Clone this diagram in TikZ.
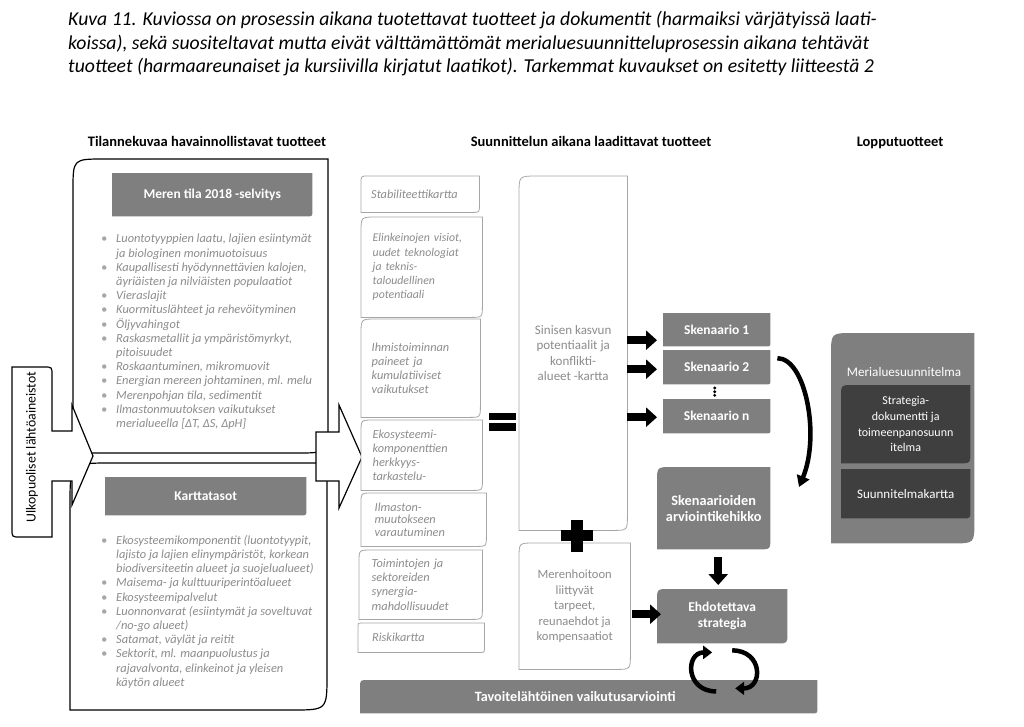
\documentclass[tikz,border=0pt]{standalone}
\usepackage{fontspec}
\setmainfont{Carlito}
\usetikzlibrary{calc,arrows.meta,backgrounds}

\definecolor{harmaa}{HTML}{7F7F7F}
\definecolor{tumma}{HTML}{3F3F3F}
\definecolor{reuna}{HTML}{A6A6A6}
\definecolor{teksti}{HTML}{8C8C8C}

% laatikko, jonka vasen ylakulma ja oikea alakulma on pyoristetty
\newcommand{\laatikko}[4][]{%
  \path[#1] ($(#2.north west)+(0,#3)$) .. controls (#2.north west) .. ($(#2.north west)+(#3,0)$)
    -- (#2.north east) -- ($(#2.south east)+(0,-#4)$) .. controls (#2.south east) .. ($(#2.south east)+(-#4,0)$)
    -- (#2.south west) -- cycle;}
\newcommand{\kohta}{\makebox[15pt][l]{\textcolor{reuna}{\textbullet}}}
\newcommand{\jatko}{\hspace*{15pt}}

\begin{document}
\begin{tikzpicture}[x=1pt,y=-1pt,
    otsikko/.style={font=\bfseries\fontsize{14.5}{17}\selectfont, anchor=base},
    lista/.style={text=teksti, font=\itshape\fontsize{12.4}{14.2}\selectfont, align=left, inner sep=0pt, anchor=north west},
    vapaa/.style={text=teksti, font=\itshape\fontsize{12.3}{14.2}\selectfont, align=left, text width=98pt, inner xsep=10pt, inner ysep=0pt, anchor=north west},
    keskeinen/.style={text=teksti, font=\fontsize{13}{15.5}\selectfont, align=center, inner sep=0pt, anchor=north west},
    tuote/.style={text=white, font=\bfseries\fontsize{13.5}{16}\selectfont, align=center, inner sep=0pt, anchor=north west},
    lopputuote/.style={tuote, font=\fontsize{12.5}{15.7}\selectfont},
    reunaviiva/.style={draw=black, line width=1.2pt, fill=white},
    vapaareuna/.style={draw=reuna, line width=0.8pt, fill=white},
    palkki/.style={line width=8pt, -{Triangle[length=11pt,width=19pt]}},
    kaari/.style={line width=4.5pt, -{Triangle[length=11pt,width=13pt]}},
    kierros/.style={line width=4.5pt, -{Triangle[length=9pt,width=13pt]}}
  ]
  \useasboundingbox (0,0) rectangle (1024,726);

  % kuvateksti
  \node[anchor=north west, align=left, inner sep=0pt, font=\itshape\fontsize{19.7}{23.5}\selectfont] (kuvateksti) at (68,11)
    {Kuva 11. Kuviossa on prosessin aikana tuotettavat tuotteet ja dokumentit (harmaiksi värjätyissä laati-\\
     koissa), sekä suositeltavat mutta eivät välttämättömät merialuesuunnitteluprosessin aikana tehtävät\\
     tuotteet (harmaareunaiset ja kursiivilla kirjatut laatikot). Tarkemmat kuvaukset on esitetty liitteestä 2};

  % sarakkeiden otsikot
  \node[otsikko] (tilanne) at (207,146) {Tilannekuvaa havainnollistavat tuotteet};
  \node[otsikko] (suunnittelu) at (591,146) {Suunnittelun aikana laadittavat tuotteet};
  \node[otsikko] (loppu) at (900,146) {Lopputuotteet};

  % tilannekuva
  \node[tuote, minimum width=200, minimum height=43] (merentila) at (112,173) {Meren tila 2018 -selvitys};
  \node[lista] (meritiedot) at (101,234) {%
    \kohta Luontotyyppien laatu, lajien esiintymät\\
    \jatko ja biologinen monimuotoisuus\\
    \kohta Kaupallisesti hyödynnettävien kalojen,\\
    \jatko äyriäisten ja nilviäisten populaatiot\\
    \kohta Vieraslajit\\
    \kohta Kuormituslähteet ja rehevöityminen\\
    \kohta Öljyvahingot\\
    \kohta Raskasmetallit ja ympäristömyrkyt,\\
    \jatko pitoisuudet\\
    \kohta Roskaantuminen, mikromuovit\\
    \kohta Energian mereen johtaminen, ml. melu\\
    \kohta Merenpohjan tila, sedimentit\\
    \kohta Ilmastonmuutoksen vaikutukset\\
    \jatko merialueella [ΔT, ΔS, ΔpH]};
  \node[tuote, minimum width=201, minimum height=38] (kartta) at (105,477) {Karttatasot};
  \node[lista] (karttatiedot) at (101,535) {%
    \kohta Ekosysteemikomponentit (luontotyypit,\\
    \jatko lajisto ja lajien elinympäristöt, korkean\\
    \jatko biodiversiteetin alueet ja suojelualueet)\\
    \kohta Maisema- ja kulttuuriperintöalueet\\
    \kohta Ekosysteemipalvelut\\
    \kohta Luonnonvarat (esiintymät ja soveltuvat\\
    \jatko /no-go alueet)\\
    \kohta Satamat, väylät ja reitit\\
    \kohta Sektorit, ml. maanpuolustus ja\\
    \jatko rajavalvonta, elinkeinot ja yleisen\\
    \jatko käytön alueet};
  \node[rotate=90, font=\fontsize{13.8}{15}\selectfont] (ulkoiset) at (32,447) {Ulkopuoliset lähtöaineistot};

  % suunnittelun aikana
  \node[vapaa, minimum width=117, minimum height=36] (stabiliteetti) at (361,176) {Stabiliteettikartta};
  \node[vapaa, minimum width=121, minimum height=100, font=\itshape\fontsize{11.8}{14.2}\selectfont] (visiot) at (361,217) {Elinkeinojen visiot,\\uudet teknologiat\\ja teknis-\\taloudellinen\\potentiaali};
  \node[vapaa, minimum width=119, minimum height=98] (paineet) at (361,319) {Ihmistoiminnan\\paineet ja\\kumulatiiviset\\vaikutukset};
  \node[vapaa, minimum width=121, minimum height=70] (herkkyys) at (361,420) {Ekosysteemi-\\komponenttien\\herkkyys-\\tarkastelu-};
  \node[vapaa, minimum width=125, minimum height=53, font=\itshape\fontsize{12.3}{12.6}\selectfont] (ilmasto) at (361,493) {Ilmaston-\\muutokseen\\varautuminen};
  \node[vapaa, minimum width=123, minimum height=69] (synergia) at (359,550) {Toimintojen ja\\sektoreiden\\synergia-\\mahdollisuudet};
  \node[vapaa, minimum width=126, minimum height=29] (riski) at (358,623) {Riskikartta};

  \node[keskeinen, minimum width=108, minimum height=354] (sininen) at (519,176) {Sinisen kasvun\\potentiaalit ja\\konflikti-\\alueet -kartta};
  \node[keskeinen, font=\fontsize{12.6}{15.5}\selectfont, minimum width=111, minimum height=126] (merenhoito) at (519,543) {Merenhoitoon\\liittyvät\\tarpeet,\\reunaehdot ja\\kompensaatiot};

  \node[tuote, minimum width=107, minimum height=33] (sk1) at (663,313) {Skenaario 1};
  \node[tuote, minimum width=107, minimum height=34] (sk2) at (663,350) {Skenaario 2};
  \node[tuote, minimum width=107, minimum height=34] (skn) at (663,399) {Skenaario n};
  \node[tuote, font=\bfseries\fontsize{14.3}{16}\selectfont, minimum width=113, minimum height=82] (kehikko) at (657,467) {Skenaarioiden\\arviointikehikko};
  \node[tuote, minimum width=130, minimum height=54] (ehdotus) at (657,589) {Ehdotettava\\strategia};
  \node[tuote, font=\bfseries\fontsize{14.2}{16}\selectfont, minimum width=457, minimum height=33] (arviointi) at (360,680) {\hspace*{-27pt}Tavoitelähtöinen vaikutusarviointi};

  % lopputuotteet
  \node[lopputuote, minimum width=143, minimum height=210] (merialue) at (831,333) {};
  \node[lopputuote, font=\fontsize{13.1}{15.7}\selectfont, anchor=center] (merialueotsikko) at (904,372) {Merialuesuunnitelma};
  \node[lopputuote, font=\fontsize{12}{15.7}\selectfont, minimum width=129, minimum height=78] (strategia) at (841,385) {Strategia-\\dokumentti ja\\toimeenpanosuunn\\itelma};
  \node[lopputuote, font=\fontsize{13}{15.7}\selectfont, minimum width=129, minimum height=49] (suunnitelmakartta) at (841,469) {Suunnitelmakartta};

  \begin{pgfonlayer}{background}
    \draw[reunaviiva] (73,453) -- (73,190) .. controls (73,159) .. (104,159) -- (328,159) -- (328,422) .. controls (328,453) .. (297,453) -- cycle;
    \draw[reunaviiva] (70,710) -- (70,505) .. controls (70,463) .. (112,463) -- (327,463) -- (327,675) .. controls (327,710) .. (292,710) -- cycle;
    \draw[reunaviiva] (12,367) -- (44,367) .. controls (52,367) .. (52,375) -- (52,431) -- (72,431) -- (72,405) -- (93,456)
      -- (72,505) -- (72,481) -- (52,481) -- (52,537) -- (20,537) .. controls (12,537) .. (12,529) -- cycle;
    \draw[reunaviiva] (316,432) -- (339,432) -- (339,405) -- (362,457) -- (339,508) -- (339,481) -- (316,481) -- cycle;
    \laatikko[fill=harmaa]{merentila}{0}{6}
    \laatikko[fill=harmaa]{kartta}{0}{6}
    \laatikko[vapaareuna]{stabiliteetti}{7}{7}
    \laatikko[vapaareuna]{visiot}{15}{12}
    \laatikko[vapaareuna]{paineet}{15}{12}
    \laatikko[vapaareuna]{herkkyys}{12}{10}
    \laatikko[vapaareuna]{ilmasto}{10}{10}
    \laatikko[vapaareuna]{synergia}{12}{12}
    \laatikko[vapaareuna]{riski}{3}{3}
    \laatikko[vapaareuna]{sininen}{18}{15}
    \laatikko[vapaareuna]{merenhoito}{15}{15}
    \laatikko[fill=harmaa]{sk1}{0}{5}
    \laatikko[fill=harmaa]{sk2}{0}{5}
    \laatikko[fill=harmaa]{skn}{0}{5}
    \laatikko[fill=harmaa]{kehikko}{15}{12}
    \laatikko[fill=harmaa]{ehdotus}{12}{10}
    \laatikko[fill=harmaa]{arviointi}{8}{6}
    \laatikko[fill=harmaa]{merialue}{22}{22}
    \laatikko[fill=tumma]{strategia}{12}{12}
    \laatikko[fill=tumma]{suunnitelmakartta}{0}{8}
  \end{pgfonlayer}

  % yhtasuuruus- ja plusmerkki
  \fill (489,413) rectangle (516,420);
  \fill (489,423) rectangle (516,431);
  \fill (561,530) rectangle (593,541);
  \fill (571,520) rectangle (583,552);

  % nuolet
  \foreach \s/\d in {sk1/10.5, sk2/2, skn/1}
    \draw[palkki] ($(sininen.east |- \s.west)+(0,\d)$) -- ($(\s.west)+(-6,\d)$);
  \foreach \i in {1,2,3}
    \fill ($(sk2.south)!\i/4!(skn.north)+(-2,0)$) circle (1.6pt);
  \coordinate (kaaripaa) at (799,487);
  \draw[kaari] ($(sk2.east)+(7,-9)$) .. controls ($(sk2.east)+(35,-9)$) and ($(sk2.east)+(50,68)$) .. (kaaripaa);
  \draw[palkki] ($(kehikko.south)+(4.5,8)$) -- ($(kehikko.south |- ehdotus.north)+(4.5,-4)$);
  \draw[palkki] ($(merenhoito.east |- ehdotus.west)+(2,-2)$) -- ($(ehdotus.west)+(4,-2)$);
  \coordinate (kierto) at ($(ehdotus.south)+(1,27)$);
  \draw[kierros] ($(kierto)+(-7,21)$) .. controls ($(kierto)+(-38,21)$) and ($(kierto)+(-38,-18)$) .. ($(kierto)+(-11,-18)$);
  \draw[kierros] ($(kierto)+(9,-20)$) .. controls ($(kierto)+(40,-20)$) and ($(kierto)+(40,18)$) .. ($(kierto)+(12,18)$);
\end{tikzpicture}
\end{document}
